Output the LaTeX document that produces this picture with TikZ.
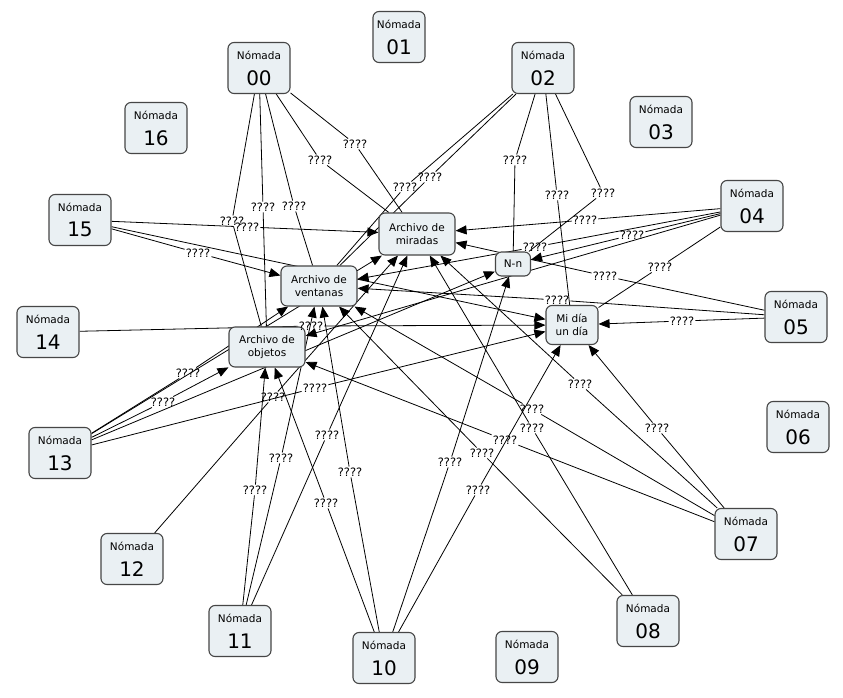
\documentclass[tikz,border=0pt]{standalone}
\usepackage{fontspec}
\setmainfont{DejaVu Sans}
\usetikzlibrary{arrows.meta}
\pgfdeclarelayer{bg}
\pgfsetlayers{bg,main}
\definecolor{boxfill}{RGB}{234,240,243}
\definecolor{boxline}{RGB}{70,70,70}
\begin{document}
\begin{tikzpicture}[x=1pt,y=-1pt,
  nomada/.style={draw=boxline, fill=boxfill, rounded corners=6pt, line width=1.1pt,
    minimum width=62pt, minimum height=51pt, align=center, inner sep=0pt,
    font=\fontsize{10.5}{12}\selectfont},
  concept/.style={draw=boxline, fill=boxfill, rounded corners=6pt, line width=1.1pt,
    align=center, inner sep=0pt, font=\fontsize{10.5}{13}\selectfont},
  lab/.style={inner sep=1pt, font=\fontsize{11.5}{13}\selectfont},
  link/.style={draw=black, line width=0.8pt},
  arr/.style={link, -{Triangle[length=11pt,width=9pt]}}
]
\useasboundingbox (0,0) rectangle (843,698);
\newcommand{\nom}[1]{N\'omada\\[10pt]{\fontsize{20}{22}\selectfont #1}}
% Nomada nodes
\node[nomada] (n00) at (259,68) {\nom{00}};
\node[nomada, minimum width=52pt] (n01) at (399,37) {\nom{01}};
\node[nomada] (n02) at (543,68) {\nom{02}};
\node[nomada] (n03) at (661,122) {\nom{03}};
\node[nomada] (n04) at (752,206) {\nom{04}};
\node[nomada] (n05) at (796,317) {\nom{05}};
\node[nomada] (n06) at (798,427) {\nom{06}};
\node[nomada] (n07) at (746,534) {\nom{07}};
\node[nomada] (n08) at (648,621) {\nom{08}};
\node[nomada] (n09) at (527,657) {\nom{09}};
\node[nomada] (n10) at (384,658) {\nom{10}};
\node[nomada] (n11) at (240,631) {\nom{11}};
\node[nomada] (n12) at (132,559) {\nom{12}};
\node[nomada] (n13) at (60,453) {\nom{13}};
\node[nomada] (n14) at (48,332) {\nom{14}};
\node[nomada] (n15) at (80,220) {\nom{15}};
\node[nomada] (n16) at (156,128) {\nom{16}};
% Concept nodes
\node[concept, minimum width=76pt, minimum height=42pt] (miradas) at (417,234) {Archivo de\\miradas};
\node[concept, minimum width=76pt, minimum height=40pt] (ventanas) at (319,286) {Archivo de\\ventanas};
\node[concept, minimum width=76pt, minimum height=40pt] (objetos) at (267,347) {Archivo de\\objetos};
\node[concept, minimum width=35pt, minimum height=24pt] (nn) at (513,264) {N-n};
\node[concept, minimum width=52pt, minimum height=39pt] (midia) at (572,325) {Mi d\'ia\\un d\'ia};
% Linking phrases
\foreach \n/\x/\y in {l1/355/144, l2/320/160, l3/430/177, l4/405/187, l5/515/160,
  l6/557/195, l7/603/193, l8/232/221, l9/263/207, l10/294/206, l11/247/227,
  l12/198/253, l13/585/220, l14/632/235, l15/535/247, l16/660/267, l17/605/276,
  l18/557/300, l19/682/321, l20/311/326, l21/188/373, l22/163/402, l23/315/388,
  l24/273/397, l25/255/490, l26/281/458, l27/327/435, l28/326/503, l29/350/472,
  l30/450/462, l31/478/490, l32/657/428, l33/505/440, l34/580/384, l35/532/409,
  l36/532/428, l37/482/453}
  {\node[lab] (\n) at (\x,\y) {????};}
\begin{pgfonlayer}{bg}
\fill[white] (0,0) rectangle (843,698);
% links without arrowheads
\foreach \s/\l/\t in {n00/l1/miradas, n00/l2/miradas, n00/l8/objetos, n00/l9/objetos,
  n00/l10/ventanas, n02/l3/ventanas, n02/l4/ventanas, n02/l5/nn, n02/l6/midia,
  n02/l7/nn, n04/l16/midia}
  {\draw[link] (\s) -- (\l); \draw[link] (\l) -- (\t);}
% links with arrowheads
\foreach \s/\l/\t in {n04/l13/miradas, n04/l14/nn, n04/l15/ventanas,
  n05/l17/miradas, n05/l18/ventanas, n05/l19/midia,
  n15/l11/miradas, n15/l12/ventanas, n14/l20/midia,
  n13/l21/ventanas, n13/l22/objetos, n13/l23/midia,
  n12/l24/miradas, n11/l25/objetos, n11/l26/ventanas, n11/l27/miradas,
  n10/l28/objetos, n10/l29/ventanas, n10/l30/nn, n10/l31/midia,
  n07/l32/midia, n07/l33/objetos, n07/l34/miradas, n07/l35/ventanas,
  n08/l36/miradas, n08/l37/ventanas}
  {\draw[link] (\s) -- (\l); \draw[arr] (\l) -- (\t);}
% links whose phrase is hidden behind a concept
\draw[arr] (n04) -- (objetos);
\draw[arr] (n13) -- (nn);
\draw[arr] (n13) -- (miradas);
\draw[arr] (n15) -- (midia);
\end{pgfonlayer}
\end{tikzpicture}
\end{document}
